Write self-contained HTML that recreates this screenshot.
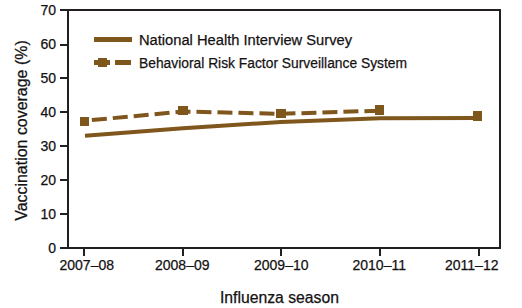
<!DOCTYPE html>
<html><head><meta charset="utf-8">
<style>
html,body{margin:0;padding:0;background:#fff;}
body{width:522px;height:308px;overflow:hidden;position:relative;}
svg{position:absolute;left:0;top:0;}
text{font-family:"Liberation Sans",sans-serif;fill:#141112;stroke:#141112;stroke-width:0.25px;}
</style></head>
<body>
<svg width="522" height="308" viewBox="0 0 522 308">
<g fill="#231f20" shape-rendering="crispEdges">
  <!-- frame -->
  <rect x="60" y="9" width="441" height="2"/>
  <rect x="60" y="247" width="441" height="2"/>
  <rect x="67" y="9" width="2" height="240"/>
  <rect x="499" y="9" width="2" height="240"/>
  <!-- y ticks -->
  <rect x="60" y="44" width="7" height="2"/>
  <rect x="60" y="77" width="7" height="2"/>
  <rect x="60" y="111" width="7" height="2"/>
  <rect x="60" y="145" width="7" height="2"/>
  <rect x="60" y="179" width="7" height="2"/>
  <rect x="60" y="213" width="7" height="2"/>
  <!-- x ticks -->
  <rect x="83" y="249" width="2" height="7"/>
  <rect x="182" y="249" width="2" height="7"/>
  <rect x="280" y="249" width="2" height="7"/>
  <rect x="379" y="249" width="2" height="7"/>
  <rect x="478" y="249" width="2" height="7"/>
</g>
<g font-size="14" text-anchor="end">
  <text x="56" y="15">70</text>
  <text x="56" y="49">60</text>
  <text x="56" y="83">50</text>
  <text x="56" y="117">40</text>
  <text x="56" y="151">30</text>
  <text x="56" y="185">20</text>
  <text x="56" y="219">10</text>
  <text x="56" y="253">0</text>
</g>
<g font-size="14">
  <text x="59.5" y="270">2007–08</text>
  <text x="155" y="270">2008–09</text>
  <text x="254" y="270">2009–10</text>
  <text x="352.5" y="270">2010–11</text>
  <text x="445" y="270">2011–12</text>
</g>
<text x="220" y="302.6" font-size="15.8" textLength="119" lengthAdjust="spacingAndGlyphs">Influenza season</text>
<text transform="translate(27,220.8) rotate(-90)" font-size="16" textLength="180.5" lengthAdjust="spacingAndGlyphs">Vaccination coverage (%)</text>

<!-- legend -->
<g fill="#7f561c">
  <rect x="94" y="37" width="38" height="5"/>
  <rect x="94" y="60" width="16" height="5"/>
  <rect x="115" y="60" width="16" height="5"/>
  <rect x="98" y="58" width="9" height="9"/>
</g>
<text x="139" y="44.9" font-size="15.5" textLength="213" lengthAdjust="spacingAndGlyphs">National Health Interview Survey</text>
<text x="139" y="67.8" font-size="15.5" textLength="268" lengthAdjust="spacingAndGlyphs">Behavioral Risk Factor Surveillance System</text>

<!-- data -->
<polyline fill="none" stroke="#7f561c" stroke-width="4" points="85,135.8 183,128.3 281,122 380,118.3 479,118.1"/>
<rect x="473" y="111" width="9" height="10" fill="#7f561c"/>
<polyline fill="none" stroke="#7f561c" stroke-width="4" stroke-dasharray="15 6" stroke-dashoffset="13.6" points="84.5,120.8 183,111.5 281,113.8 379.5,110.7"/>
<g fill="#7f561c">
  <rect x="80" y="117" width="9" height="9"/>
  <rect x="178" y="106" width="10" height="9"/>
  <rect x="276" y="109" width="10" height="9"/>
  <rect x="375" y="105" width="9" height="10"/>
</g>
</svg>
</body></html>
